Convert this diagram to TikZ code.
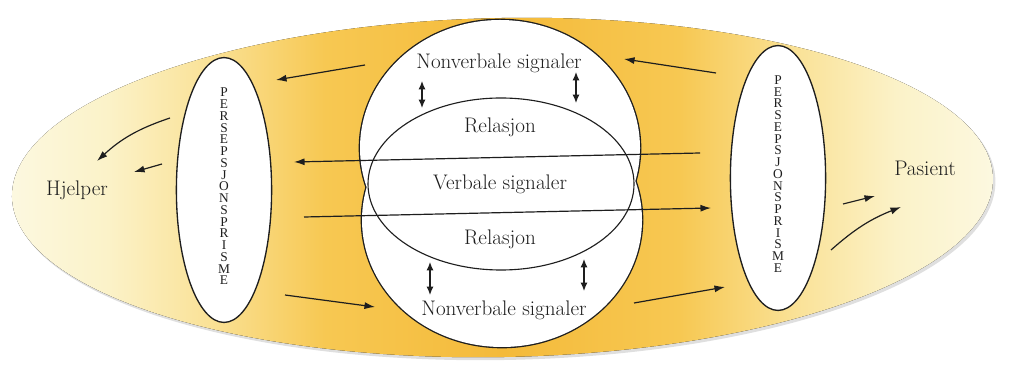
\documentclass[tikz,border=0pt]{standalone}
\usepackage{fontspec}
\usepackage{tikz}
\usetikzlibrary{
  arrows.meta,
  shapes.geometric,
  positioning,
  calc
}
\newfontfamily\prismfont{Liberation Serif}
\definecolor{lensedge}{RGB}{252,248,224}
\definecolor{lenspale}{RGB}{251,242,200}
\definecolor{lenslight}{RGB}{250,226,152}
\definecolor{lensmid}{RGB}{247,200,82}
\definecolor{lensgold}{RGB}{244,186,58}
\definecolor{inkdark}{RGB}{30,30,30}
\pgfdeclarehorizontalshading{lensshade}{100bp}{color(0bp)=(lensedge); color(25bp)=(lensedge);
  color(30bp)=(lenspale); color(35bp)=(lenslight); color(41bp)=(lensmid); color(50bp)=(lensgold);
  color(59bp)=(lensmid); color(65bp)=(lenslight); color(70bp)=(lenspale); color(75bp)=(lensedge);
  color(100bp)=(lensedge)}
\newcommand{\prismword}{P\\E\\R\\S\\E\\P\\S\\J\\O\\N\\S\\P\\R\\I\\S\\M\\E}

\begin{document}
\begin{tikzpicture}[x=0.025cm, y=0.025cm,
  lens/.style={shading=lensshade},
  bubble/.style={draw=inkdark, line width=1.9pt},
  prism/.style={ellipse, draw=inkdark, fill=white, line width=0.95pt, inner sep=0pt,
                minimum width=2.38cm, minimum height=6.62cm},
  spell/.style={font=\prismfont\fontsize{9.5}{8.35}\selectfont, align=center, inner sep=0pt, text=inkdark},
  lbl/.style={font=\fontsize{15}{18}\selectfont, text=inkdark, inner sep=1pt},
  arr/.style={-{Latex[length=7.5pt,width=5pt]}, line width=0.85pt, color=inkdark},
  dbl/.style={{Latex[length=6pt,width=5pt]}-{Latex[length=6pt,width=5pt]},
              line width=0.85pt, color=inkdark}
]
  \useasboundingbox (0,0) rectangle (1023,387);

  % background lens
  \coordinate (lensc) at (502.5,199.5);
  \fill[gray!25, rotate around={1.1:(lensc)}] ($(lensc)+(2,-2.5)$) ellipse [x radius=491, y radius=170];
  \fill[lens, rotate around={1.1:(lensc)}] (lensc) ellipse [x radius=490.6, y radius=169.5];

  % the two bubbles (outline of the union only) and the inner ellipse
  \draw[bubble] (500,239) ellipse [x radius=140, y radius=128]
                (502,167) ellipse [x radius=140, y radius=127];
  \fill[white]  (500,239) ellipse [x radius=140, y radius=128]
                (502,167) ellipse [x radius=140, y radius=127];
  \draw[inkdark, line width=0.8pt] (501,203) ellipse [x radius=133, y radius=86];

  % perception prisms
  \node[prism] (lprism) at (224,197) {};
  \node[prism] (rprism) at (778,209) {};
  \node[spell] (lword) at (224,200.5) {\prismword};
  \node[spell] (rword) at (778,213) {\prismword};

  % texts
  \node[lbl] (topnv)   at (499,324) {Nonverbale signaler};
  \node[lbl] (toprel)  at (500,260) {Relasjon};
  \node[lbl] (verbal)  at (500,203) {Verbale signaler};
  \node[lbl] (botrel)  at (500,148) {Relasjon};
  \node[lbl] (botnv)   at (504,77)  {Nonverbale signaler};
  \node[lbl] (hjelper) at (77,197)  {Hjelper};
  \node[lbl] (pasient) at (925,219) {Pasient};

  % arrow ends
  \coordinate (tl1) at (365,322); \coordinate (tl2) at (276,307);
  \coordinate (tr1) at (716,314); \coordinate (tr2) at (624,328);
  \coordinate (ml1) at (700,234); \coordinate (ml2) at (294,225);
  \coordinate (mr1) at (304,170); \coordinate (mr2) at (711,179);
  \coordinate (bl1) at (285,92);  \coordinate (bl2) at (375,80);
  \coordinate (br1) at (634,84);  \coordinate (br2) at (725,100);
  \coordinate (hc1) at (170,269); \coordinate (hc2) at (97,226);
  \coordinate (hs1) at (162,223); \coordinate (hs2) at (134,215);
  \coordinate (ps1) at (843,183); \coordinate (ps2) at (875,191);
  \coordinate (pc1) at (831,137); \coordinate (pc2) at (901,180);

  \draw[arr] (tl1) -- (tl2);
  \draw[arr] (tr1) -- (tr2);
  \draw[arr] (ml1) -- (ml2);
  \draw[arr] (mr1) -- (mr2);
  \draw[arr] (bl1) -- (bl2);
  \draw[arr] (br1) -- (br2);
  \draw[arr] (hc1) to[bend right=12] (hc2);
  \draw[arr] (hs1) -- (hs2);
  \draw[arr] (ps1) -- (ps2);
  \draw[arr] (pc1) to[bend left=10] (pc2);

  % two-way arrows in the bubbles
  \coordinate (d1a) at (422,306); \coordinate (d1b) at (422,279);
  \coordinate (d2a) at (576,315); \coordinate (d2b) at (576,284);
  \coordinate (d3a) at (430,125); \coordinate (d3b) at (430,92);
  \coordinate (d4a) at (584,128); \coordinate (d4b) at (584,96);
  \draw[dbl] (d1a) -- (d1b);
  \draw[dbl] (d2a) -- (d2b);
  \draw[dbl] (d3a) -- (d3b);
  \draw[dbl] (d4a) -- (d4b);
\end{tikzpicture}
\end{document}
